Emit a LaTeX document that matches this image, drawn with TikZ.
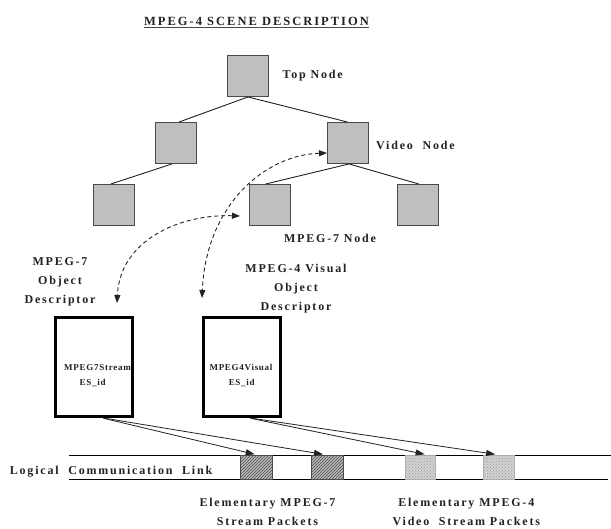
\documentclass[tikz,border=0pt]{standalone}
\usepackage{fontspec}
\setmainfont{Liberation Serif}
\newfontfamily\lblfont{Liberation Serif}[LetterSpace=15]
\newfontfamily\ttlfont{Liberation Serif}[LetterSpace=16]
\newfontfamily\boxfont{Liberation Serif}[LetterSpace=8]
\usetikzlibrary{arrows.meta,patterns}
\definecolor{treegray}{HTML}{BFBFBF}
\definecolor{edgegray}{HTML}{4A4A4A}
\definecolor{inkgray}{HTML}{222222}
\begin{document}
\begin{tikzpicture}[x=1pt,y=-1pt,
  treebox/.style={draw=edgegray, fill=treegray, line width=0.9pt, minimum width=41pt, minimum height=41pt, inner sep=0pt},
  treeedge/.style={draw=inkgray, line width=0.9pt},
  lbl/.style={font=\lblfont\bfseries\fontsize{12}{19}\selectfont, text=inkgray, inner sep=0pt, align=center},
  pktlbl/.style={lbl, font=\lblfont\bfseries\fontsize{12}{18.4}\selectfont},
  boxtxt/.style={font=\boxfont\bfseries\fontsize{9}{10}\selectfont, text=inkgray, inner sep=0pt},
  descbox/.style={draw=black, line width=3pt, minimum width=77pt, minimum height=99pt, inner sep=0pt},
  dashlink/.style={draw=inkgray, line width=0.9pt, dash pattern=on 4pt off 3pt, {Triangle[length=8pt,width=6pt]}-{Triangle[length=8pt,width=6pt]}},
  streamarrow/.style={draw=inkgray, line width=0.8pt, -{Triangle[length=9pt,width=6pt]}},
  linkline/.style={draw=black, line width=1.6pt},
  pktdark/.style={draw=edgegray, line width=0.6pt, fill=gray!55, minimum height=24pt, inner sep=0pt, postaction={pattern=north east lines, pattern color=black!70}},
  pktlight/.style={draw=gray!60, line width=0.6pt, fill=gray!35, minimum height=24pt, inner sep=0pt, postaction={pattern=crosshatch dots, pattern color=gray!80}}
]
\useasboundingbox (0,0) rectangle (611,529);
\fill[white] (0,0) rectangle (611,529);

% title
\node[lbl, anchor=base, font=\ttlfont\bfseries\fontsize{12.5}{14}\selectfont] (title) at (256.5,25.5) {MPEG-4 SCENE DESCRIPTION};
\draw[draw=edgegray, line width=1.2pt] ([yshift=-2.3pt]title.base west) -- ([yshift=-2.3pt]title.base east);

% tree
\node[treebox] (top) at (248,76) {};
\node[treebox] (midL) at (176,143) {};
\node[treebox] (video) at (347.5,143) {};
\node[treebox] (botL) at (113.7,205) {};
\node[treebox] (botM) at (269.5,205) {};
\node[treebox] (botR) at (417.5,205) {};

\draw[treeedge] (top.south) -- ([xshift=3pt]midL.north);
\draw[treeedge] (top.south) -- (video.north);
\draw[treeedge] ([xshift=-4pt]midL.south) -- ([xshift=-3pt]botL.north);
\draw[treeedge] ([xshift=1.5pt]video.south) -- ([xshift=-4pt]botM.north);
\draw[treeedge] ([xshift=1.5pt]video.south) -- ([xshift=1.5pt]botR.north);

\node[lbl, anchor=west] (toplbl) at (282.5,75.5) {Top Node};
\node[lbl, anchor=west] (videolbl) at (376,145.5) {Video\ \ Node};
\node[lbl] (m7lbl) at (330,238.5) {MPEG-7 Node};

% descriptors
\node[lbl] (d1lbl) at (60,281.5) {MPEG-7\\Object\\Descriptor};
\node[lbl] (d2lbl) at (296,289) {MPEG-4 Visual\\Object\\Descriptor};

\node[boxtxt] (d1t1) at (97.5,367.5) {MPEG7Stream};
\node[boxtxt] (d1t2) at (92.6,383) {ES\_id};
\node[boxtxt] (d2t1) at (241,367.5) {MPEG4Visual};
\node[boxtxt] (d2t2) at (241.7,383) {ES\_id};
\node[descbox] (d1) at (93.7,367.2) {};
\node[descbox] (d2) at (241.6,367.2) {};

% dashed associations
\coordinate (a7top) at (240,216);
\coordinate (a7bot) at (117,303);
\coordinate (a4top) at (327,153);
\coordinate (a4bot) at (202,298);
\draw[dashlink] (a7top) .. controls (180,214) and (120,240) .. (a7bot);
\draw[dashlink] (a4top) .. controls (265,155) and (206,205) .. (a4bot);

% logical communication link
\coordinate (lt0) at (69,455.5);
\coordinate (lt1) at (611,455.5);
\coordinate (lb0) at (69,479.3);
\coordinate (lb1) at (608,479.3);
\draw[linkline] (lt0) -- (lt1);
\draw[linkline] (lb0) -- (lb1);
\node[lbl, anchor=west] (linklbl) at (9.7,471.5) {Logical\ \ Communication\ \ Link};

\node[pktdark, minimum width=32pt] (p1) at (256.7,467.4) {};
\node[pktdark, minimum width=31.6pt] (p2) at (327.5,467.4) {};
\node[pktlight, minimum width=30pt] (p3) at (420.7,467.4) {};
\node[pktlight, minimum width=30.7pt] (p4) at (498.7,467.4) {};

\draw[streamarrow] ([xshift=9.5pt]d1.south) -- ([xshift=-2pt,yshift=0.8pt]p1.north);
\draw[streamarrow] ([xshift=11pt]d1.south) -- ([xshift=-4.5pt,yshift=0.8pt]p2.north);
\draw[streamarrow] ([xshift=8.5pt]d2.south) -- ([xshift=4pt,yshift=0.8pt]p3.north);
\draw[streamarrow] ([xshift=10pt]d2.south) -- ([xshift=-3.5pt,yshift=0.8pt]p4.north);

\node[pktlbl] (p7lbl) at (267.5,511.8) {Elementary MPEG-7\\Stream Packets};
\node[pktlbl] (p4lbl) at (466.3,511.8) {Elementary MPEG-4\\Video\ \ Stream Packets};
\end{tikzpicture}
\end{document}
